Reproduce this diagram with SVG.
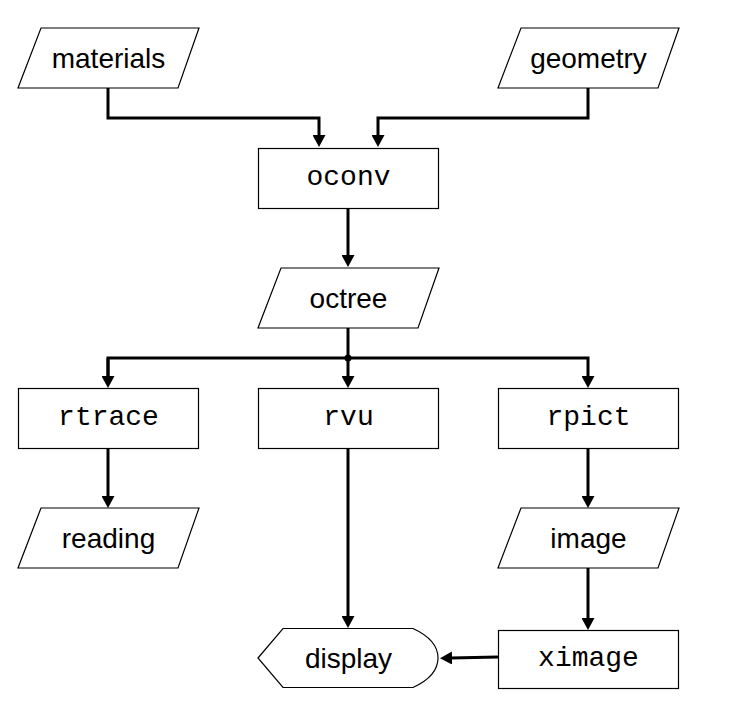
<svg xmlns="http://www.w3.org/2000/svg" width="750" height="714" viewBox="0 0 750 714">
<style>
.shape{fill:#fff;stroke:#000;stroke-width:1.2}
.sans{font-family:"Liberation Sans",Arial,sans-serif;font-size:28px;fill:#000;text-anchor:middle}
.mono{font-family:"Liberation Mono","Courier New",monospace;font-size:28px;fill:#000;text-anchor:middle}
.conn{fill:none;stroke:#000;stroke-width:3;marker-end:url(#arr)}
.bus{fill:none;stroke:#000;stroke-width:3}
</style>
<defs>
<marker id="arr" markerUnits="userSpaceOnUse" markerWidth="13" markerHeight="13" viewBox="0 0 13 13" refX="1" refY="6.5" orient="auto">
<path d="M0,0 L12,6.5 L0,13 z" fill="#000"/>
</marker>
</defs>
<rect width="750" height="714" fill="#fff"/>
<g id="connectors">
<path class="conn" d="M108,88 V118 H319 V136"/>
<path class="conn" d="M588,88 V118 H378 V136"/>
<path class="conn" d="M348,208 V256"/>
<path class="bus" d="M348,328 V358"/>
<path class="conn" d="M108,378 V358 H588 V377"/>
<path class="conn" d="M108,358 V377"/>
<path class="conn" d="M348,358 V377"/>
<circle cx="348" cy="358" r="3.5" fill="#000"/>
<path class="conn" d="M108,448 V497"/>
<path class="conn" d="M348,448 V617"/>
<path class="conn" d="M588,448 V497"/>
<path class="conn" d="M588,568 V619"/>
<path class="conn" d="M498,657 L451,658"/>
</g>
<g id="materials">
<polygon class="shape" points="41,28 199,28 178,88 18,88"/>
<text class="sans" x="108.5" y="67.5">materials</text>
</g>
<g id="geometry">
<polygon class="shape" points="521,28 679,28 658,88 498,88"/>
<text class="sans" x="588.5" y="67.5">geometry</text>
</g>
<g id="oconv">
<rect class="shape" x="258.5" y="148.5" width="180" height="60"/>
<text class="mono" x="348.5" y="184.5">oconv</text>
</g>
<g id="octree">
<polygon class="shape" points="281,268 439,268 418,328 258,328"/>
<text class="sans" x="348.5" y="307.5">octree</text>
</g>
<g id="rtrace">
<rect class="shape" x="18.5" y="388.5" width="180" height="60"/>
<text class="mono" x="108.5" y="424.5">rtrace</text>
</g>
<g id="rvu">
<rect class="shape" x="258.5" y="388.5" width="180" height="60"/>
<text class="mono" x="348.5" y="424.5">rvu</text>
</g>
<g id="rpict">
<rect class="shape" x="498.5" y="388.5" width="180" height="60"/>
<text class="mono" x="588.5" y="424.5">rpict</text>
</g>
<g id="reading">
<polygon class="shape" points="41,508 199,508 178,568 18,568"/>
<text class="sans" x="108.5" y="547.5">reading</text>
</g>
<g id="image">
<polygon class="shape" points="521,508 679,508 658,568 498,568"/>
<text class="sans" x="588.5" y="547.5">image</text>
</g>
<g id="display">
<path class="shape" d="M258,658 L283,628.5 H413 Q438,640 438,658 Q438,676 413,687.5 H283 Z"/>
<text class="sans" x="348.5" y="667.5">display</text>
</g>
<g id="ximage">
<rect class="shape" x="498.5" y="630.5" width="180" height="58"/>
<text class="mono" x="588.5" y="665.5">ximage</text>
</g>
</svg>
